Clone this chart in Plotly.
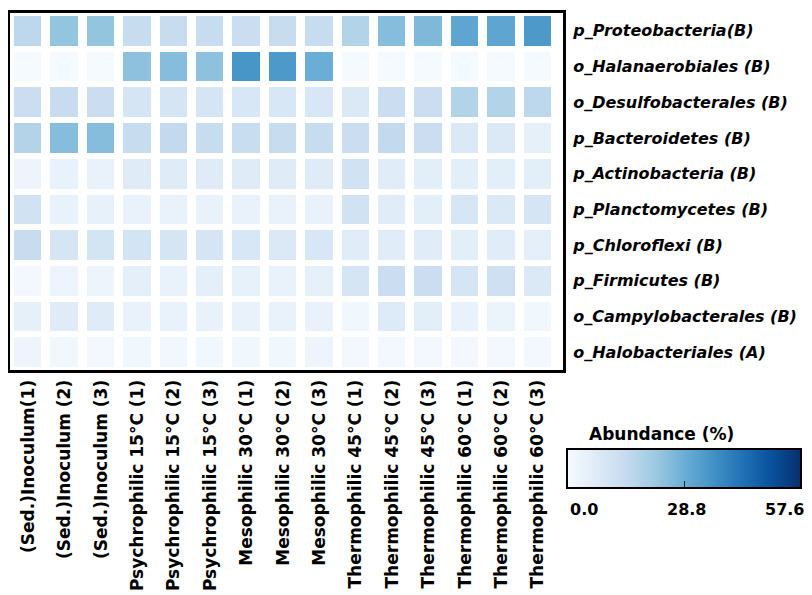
import plotly.graph_objects as go

samples = [
    "(Sed.)Inoculum(1)", "(Sed.)Inoculum (2)", "(Sed.)Inoculum (3)",
    "Psychrophilic 15°C (1)", "Psychrophilic 15°C (2)", "Psychrophilic 15°C (3)",
    "Mesophilic 30°C (1)", "Mesophilic 30°C (2)", "Mesophilic 30°C (3)",
    "Thermophilic 45°C (1)", "Thermophilic 45°C (2)", "Thermophilic 45°C (3)",
    "Thermophilic 60°C (1)", "Thermophilic 60°C (2)", "Thermophilic 60°C (3)",
]
taxa = [
    "p_Proteobacteria(B)", "o_Halanaerobiales (B)", "o_Desulfobacterales (B)",
    "p_Bacteroidetes (B)", "p_Actinobacteria (B)", "p_Planctomycetes (B)",
    "p_Chloroflexi (B)", "p_Firmicutes (B)", "o_Campylobacterales (B)",
    "o_Halobacteriales (A)",
]

proteobacteria     = [16, 23, 23, 14, 14, 14, 13, 14, 14, 18, 25, 26, 31, 31, 34]
halanaerobiales    = [0.5, 0.5, 0.5, 24, 25, 24, 35, 34, 29, 0.5, 0.5, 0.5, 0.5, 0.5, 0.5]
desulfobacterales  = [13, 14, 13, 10, 10, 10, 9, 9, 9, 8, 13, 13, 18, 18, 16]
bacteroidetes      = [18, 25, 25, 14, 15, 14, 13.5, 14, 14, 13, 15, 13, 8, 8, 5]
actinobacteria     = [3, 4, 4, 7, 7, 7, 7, 7, 7, 11, 6.5, 6, 6, 6, 6]
planctomycetes     = [11, 4, 4.5, 4, 4, 4, 4, 4, 4, 11, 6.5, 6, 9.5, 8, 10]
chloroflexi        = [14, 10, 10.5, 10.5, 10, 10, 9, 8, 9, 6.5, 6.5, 6.5, 6, 6.5, 5.5]
firmicutes         = [1.5, 3, 3, 5.5, 4, 5.5, 4.5, 4, 5, 10, 13, 13, 10, 12, 8]
campylobacterales  = [5, 7, 7, 4, 4, 4, 4, 4, 4, 2, 7.5, 6, 4, 3.5, 2]
halobacteriales    = [3, 2, 1.5, 2, 2, 2, 2, 2, 3, 1.5, 1.5, 1.5, 1.5, 1.5, 1.5]

z_values = [proteobacteria, halanaerobiales, desulfobacterales, bacteroidetes,
            actinobacteria, planctomycetes, chloroflexi, firmicutes,
            campylobacterales, halobacteriales]

z_min, z_max = 0.0, 57.6
cbar_ticks = [0.0, 28.8, 57.6]
cbar_ticktext = ["0.0", "28.8", "57.6"]

blues = [[0.0, "#f7fbff"], [0.125, "#deebf7"], [0.25, "#c6dbef"], [0.375, "#9ecae1"],
         [0.5, "#6baed6"], [0.625, "#4292c6"], [0.75, "#2171b5"], [0.875, "#08519c"],
         [1.0, "#08306b"]]

# the page body has an 8px margin, so the figure starts at (8, 8) in the window
OFF = 8
W, H = 812 - OFF, 595 - OFF
L, R, T, B = 10 - OFF, 563 - OFF, 13 - OFF, 370 - OFF

def px_x(x):
    return (x - OFF - L) / (R - L)

def px_y(y):
    return (B - (y - OFF)) / (B - T)

fig = go.Figure(go.Heatmap(
    z=z_values, x=samples, y=taxa,
    colorscale=blues, zmin=z_min, zmax=z_max,
    xgap=9, ygap=6,
    colorbar=dict(
        orientation="h",
        x=px_x(567), xanchor="left", y=px_y(498), yanchor="bottom",
        len=234, lenmode="pixels", thickness=39, thicknessmode="pixels",
        xpad=0, ypad=0, outlinewidth=2, outlinecolor="black",
        tickvals=[cbar_ticks[1]], ticks="inside", ticklen=8, tickcolor="#222",
        showticklabels=False,
    ),
))

font_family = "DejaVu Sans"
annotations = [dict(text="<b>Abundance (%)</b>", x=px_x(587), y=px_y(434),
                    xref="paper", yref="paper", xanchor="left", yanchor="middle",
                    showarrow=False, font=dict(family=font_family, size=17, color="black"))]
anchors = ["left", "center", "right"]
xs = [568, 686, 806]
for val, txt, anc, xp in zip(cbar_ticks, cbar_ticktext, anchors, xs):
    annotations.append(dict(text="<b>" + txt + "</b>", x=px_x(xp), y=px_y(509),
                            xref="paper", yref="paper", xanchor=anc, yanchor="middle",
                            showarrow=False, font=dict(family=font_family, size=16, color="black")))

fig.update_layout(
    width=W, height=H,
    margin=dict(l=L, r=W - R, t=T, b=H - B, pad=0, autoexpand=False),
    paper_bgcolor="white", plot_bgcolor="white",
    xaxis=dict(
        range=[-0.5, 14.69], tickangle=-90, tickmode="array", automargin=False,
        tickvals=list(range(len(samples))), ticktext=["<b>" + s + "</b>" for s in samples],
        tickfont=dict(family=font_family, size=17, color="black"),
        showgrid=False, zeroline=False, showline=True, linewidth=3, linecolor="black",
        mirror=True, ticks="",
    ),
    yaxis=dict(
        autorange="reversed", side="right", tickmode="array", automargin=False,
        tickvals=taxa, ticktext=["<b><i>" + t + "</i></b>" for t in taxa],
        tickfont=dict(family=font_family, size=16, color="black"),
        ticklabelstandoff=4,
        showgrid=False, zeroline=False, showline=True, linewidth=3, linecolor="black",
        mirror=True, ticks="",
    ),
    annotations=annotations,
)

fig.write_html("out.html")
